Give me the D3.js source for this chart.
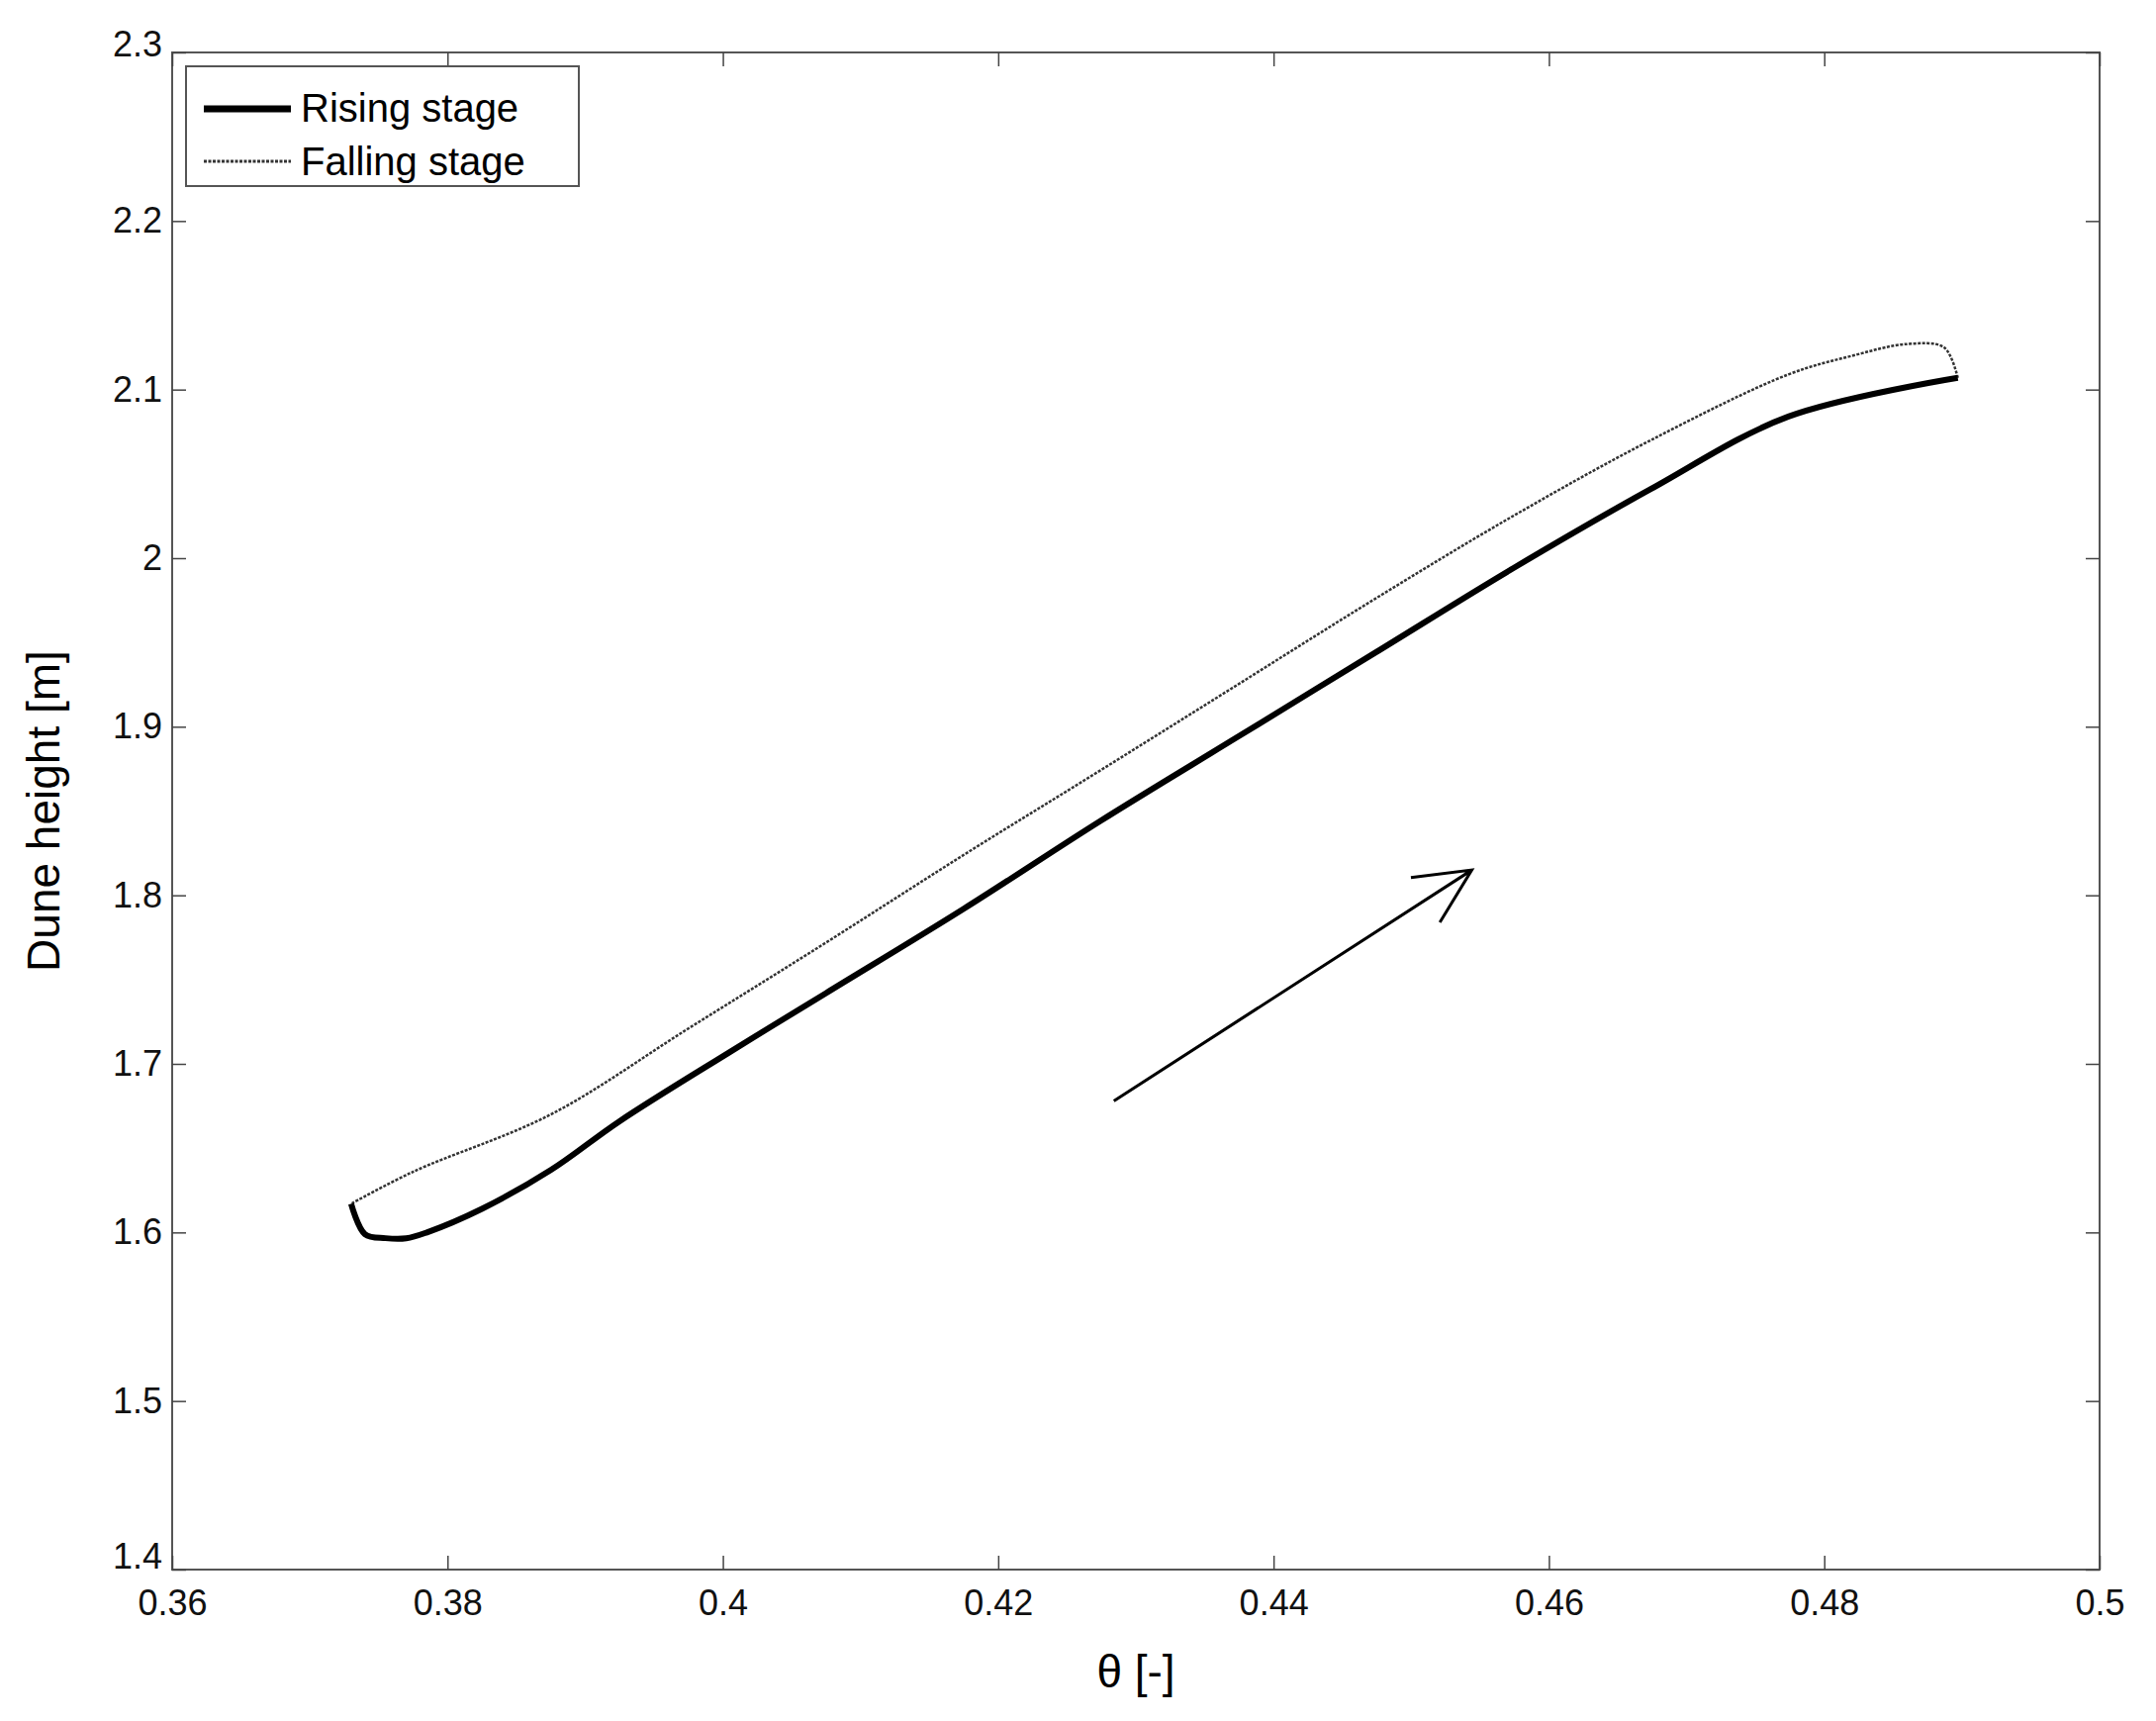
<!DOCTYPE html>
<html><head><meta charset="utf-8">
<script src="https://cdn.jsdelivr.net/npm/d3@7"></script>
<style>body{margin:0;background:#fff}text{font-family:"Liberation Sans",Arial,sans-serif}</style>
</head><body><svg id="chart" width="2179" height="1739"></svg>
<script>
// values
let xTicks = [0.36, 0.38, 0.4, 0.42, 0.44, 0.46, 0.48, 0.5];
let yTicks = [1.4, 1.5, 1.6, 1.7, 1.8, 1.9, 2.0, 2.1, 2.2, 2.3];
let risingTheta = [0.373, 0.374, 0.3755, 0.377, 0.3785, 0.3825, 0.3875, 0.3925, 0.4005, 0.4075, 0.4175, 0.4274, 0.4374, 0.4474, 0.4574, 0.4674, 0.4774, 0.4897];
let risingH = [1.617, 1.599, 1.5966, 1.5965, 1.600, 1.614, 1.637, 1.666, 1.707, 1.742, 1.792, 1.844, 1.894, 1.944, 1.994, 2.041, 2.084, 2.107];
let fallingTheta = [0.4897, 0.4887, 0.486, 0.482, 0.4774, 0.4674, 0.4574, 0.4474, 0.4374, 0.4274, 0.4175, 0.4075, 0.3975, 0.3875, 0.3775, 0.373];
let fallingH = [2.107, 2.125, 2.127, 2.120, 2.109, 2.070, 2.025, 1.976, 1.925, 1.874, 1.824, 1.772, 1.721, 1.670, 1.636, 1.617];
let arrowFrom = [0.4284, 1.678];
let arrowTo = [0.4544, 1.815];

let svg = d3.select("#chart");
let mLeft = 174, mRight = 2122, mTop = 53, mBottom = 1586;
let x = d3.scaleLinear().domain([0.36, 0.5]).range([mLeft, mRight]);
let y = d3.scaleLinear().domain([1.4, 2.3]).range([mBottom, mTop]);

// frame
svg.append("rect").attr("x", mLeft).attr("y", mTop).attr("width", mRight - mLeft).attr("height", mBottom - mTop)
   .attr("fill", "none").attr("stroke", "#555").attr("stroke-width", 2);

let tl = 14;
let axB = svg.append("g").attr("transform", `translate(0,${mBottom})`)
  .call(d3.axisBottom(x).tickValues(xTicks).tickSize(-tl).tickPadding(14).tickFormat(d => String(+d.toFixed(2))));
let axT = svg.append("g").attr("transform", `translate(0,${mTop})`)
  .call(d3.axisTop(x).tickValues(xTicks).tickSize(-tl).tickFormat(""));
let axL = svg.append("g").attr("transform", `translate(${mLeft},0)`)
  .call(d3.axisLeft(y).tickValues(yTicks).tickSize(-tl).tickPadding(10).tickFormat(d => String(+d.toFixed(1))));
let axR = svg.append("g").attr("transform", `translate(${mRight},0)`)
  .call(d3.axisRight(y).tickValues(yTicks).tickSize(-tl).tickFormat(""));
[axB, axT, axL, axR].forEach(a => {
  a.select(".domain").remove();
  a.selectAll("line").attr("stroke", "#444").attr("stroke-width", 1.5);
  a.selectAll("text").attr("font-size", 36).attr("fill", "#111");
});
axB.selectAll("text").attr("dy", "0.9em");
axL.selectAll("text").filter(d => d === 1.4).attr("dy", "-0.05em");
axL.selectAll("text").filter(d => d === 2.3).attr("dy", "0.1em");

// axis titles
svg.append("text").attr("x", (mLeft + mRight) / 2).attr("y", 1705).attr("text-anchor", "middle")
   .attr("font-size", 46).text("θ [-]");
svg.append("text").attr("transform", `translate(60,${(mTop + mBottom) / 2}) rotate(-90)`)
   .attr("text-anchor", "middle").attr("font-size", 46).text("Dune height [m]");

let lineC = d3.line().x(d => x(d[0])).y(d => y(d[1])).curve(d3.curveCatmullRom);

svg.append("path").datum(fallingTheta.map((t, i) => [t, fallingH[i]]))
   .attr("d", lineC).attr("fill", "none").attr("stroke", "#333").attr("stroke-width", 2.5)
   .attr("stroke-dasharray", "3,1.5");
svg.append("path").datum(risingTheta.map((t, i) => [t, risingH[i]]))
   .attr("d", lineC).attr("fill", "none").attr("stroke", "#000").attr("stroke-width", 6)
   .attr("stroke-linejoin", "round");

// arrow
let ax0 = x(arrowFrom[0]), ay0 = y(arrowFrom[1]), ax1 = x(arrowTo[0]), ay1 = y(arrowTo[1]);
let ang = Math.atan2(ay1 - ay0, ax1 - ax0), hl = 62;
svg.append("path")
   .attr("d", `M${ax0},${ay0}L${ax1},${ay1}M${ax1 - hl * Math.cos(ang - 0.45)},${ay1 - hl * Math.sin(ang - 0.45)}L${ax1},${ay1}L${ax1 - hl * Math.cos(ang + 0.45)},${ay1 - hl * Math.sin(ang + 0.45)}`)
   .attr("fill", "none").attr("stroke", "#000").attr("stroke-width", 3);

// legend
let lg = svg.append("g").attr("transform", "translate(188,67)");
lg.append("rect").attr("width", 397).attr("height", 121).attr("fill", "#fff").attr("stroke", "#555").attr("stroke-width", 2);
lg.append("line").attr("x1", 18).attr("x2", 106).attr("y1", 43).attr("y2", 43).attr("stroke", "#000").attr("stroke-width", 7);
lg.append("line").attr("x1", 18).attr("x2", 106).attr("y1", 96).attr("y2", 96).attr("stroke", "#333").attr("stroke-width", 3).attr("stroke-dasharray", "3,1.5");
lg.append("text").attr("x", 116).attr("y", 56).attr("font-size", 40).text("Rising stage");
lg.append("text").attr("x", 116).attr("y", 110).attr("font-size", 40).text("Falling stage");
</script></body></html>
